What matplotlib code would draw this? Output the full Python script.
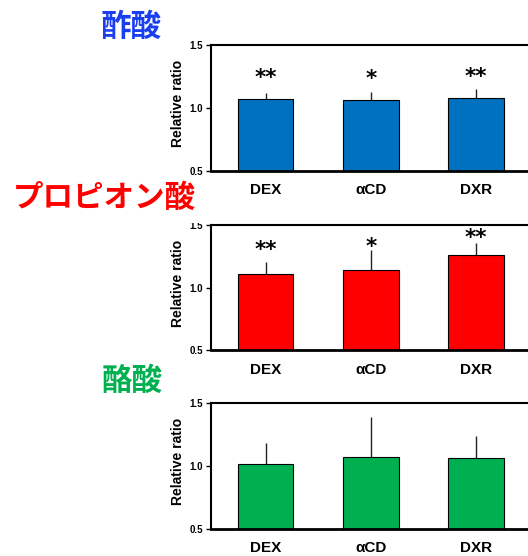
import numpy as np
from matplotlib import pyplot as plt
from matplotlib.transforms import Bbox, TransformedBbox

plt.rcParams['font.family'] = ['Liberation Sans', 'Noto Sans CJK JP', 'DejaVu Sans']

groups = ["DEX", "αCD", "DXR"]

acetic_mean = [1.07, 1.062, 1.076]
acetic_err = [0.046, 0.064, 0.071]
acetic_marks = ["**", "*", "**"]
acetic_mark_y = [1.27, 1.265, 1.275]

propionic_mean = [1.11, 1.14, 1.258]
propionic_err = [0.092, 0.16, 0.098]
propionic_marks = ["**", "*", "**"]
propionic_mark_y = [1.33, 1.36, 1.43]

butyric_mean = [1.017, 1.075, 1.065]
butyric_err = [0.165, 0.319, 0.175]

yticks = [0.5, 1.0, 1.5]


fig = plt.figure(figsize=(5.28, 5.56), dpi=100)

#Each panel is [left, bottom, width, height] in figure fractions
def makePanel(rect, means, errs, color, marks=None, markY=None):
    ax = fig.add_axes(rect)
    x = np.arange(len(groups))
    ax.bar(x, means, width=0.53, bottom=0, color=color, edgecolor="black",
           linewidth=0.8, zorder=2)
    ax.errorbar(x, means, yerr=[np.zeros(len(errs)), errs], fmt="none",
                ecolor="#222222", elinewidth=1, capsize=0, zorder=1)
    if marks is not None:
        for i in range(len(marks)):
            #asterisks sit high in their line box, so nudge them down a little
            ax.annotate(marks[i], (x[i], markY[i]), xytext=(0, -3),
                        textcoords="offset points", ha="center", va="center",
                        fontsize=15.5, fontweight="bold", family="DejaVu Sans",
                        color="black")

    ax.set_xlim(-0.518, 2.6)
    ax.set_ylim(0.5, 1.5)
    ax.set_yticks(yticks)
    ax.set_yticklabels(["%.1f" % v for v in yticks], fontsize=7, fontweight="bold")
    ax.set_xticks(x)
    ax.set_xticklabels(groups, fontsize=11, fontweight="bold")
    ax.tick_params(axis="x", length=0, pad=9)
    ax.tick_params(axis="y", length=3.5, width=1, pad=2.5, direction="out")
    ax.set_ylabel("Relative ratio", fontsize=10, fontweight="bold", labelpad=3)
    ax.yaxis.label.set_y(0.535)

    ax.spines["right"].set_visible(False)
    ax.spines["left"].set_linewidth(1.5)
    ax.spines["top"].set_linewidth(1.5)
    ax.spines["bottom"].set_linewidth(2)
    return ax

ax1 = makePanel([0.3996, 0.693, 0.622, 0.226], acetic_mean, acetic_err,
                "#0070c0", acetic_marks, acetic_mark_y)
ax2 = makePanel([0.3996, 0.3705, 0.622, 0.2248], propionic_mean, propionic_err,
                "#ff0000", propionic_marks, propionic_mark_y)
ax3 = makePanel([0.3996, 0.0486, 0.622, 0.226], butyric_mean, butyric_err,
                "#00b050")

#the top tick label of the middle panel is cut off under the heading row
clip = TransformedBbox(Bbox([[0, 0], [1, (556 - 223) / 556]]), fig.transFigure)
for lab in ax2.get_yticklabels():
    lab.set_clip_box(clip)
    lab.set_clip_on(True)

titleFont = dict(fontsize=22, fontweight="bold", family=["Noto Sans CJK JP", "DejaVu Sans"],
                 ha="center", va="center")
fig.text(131.5 / 528, 1 - 26.5 / 556, "酢酸", color="#1a3ff0", **titleFont)
fig.text(104.5 / 528, 1 - 198 / 556, "プロピオン酸", color="#ff0000", **titleFont)
fig.text(132 / 528, 1 - 380.5 / 556, "酪酸", color="#00b050", **titleFont)

fig.savefig("out.png", dpi=100)
